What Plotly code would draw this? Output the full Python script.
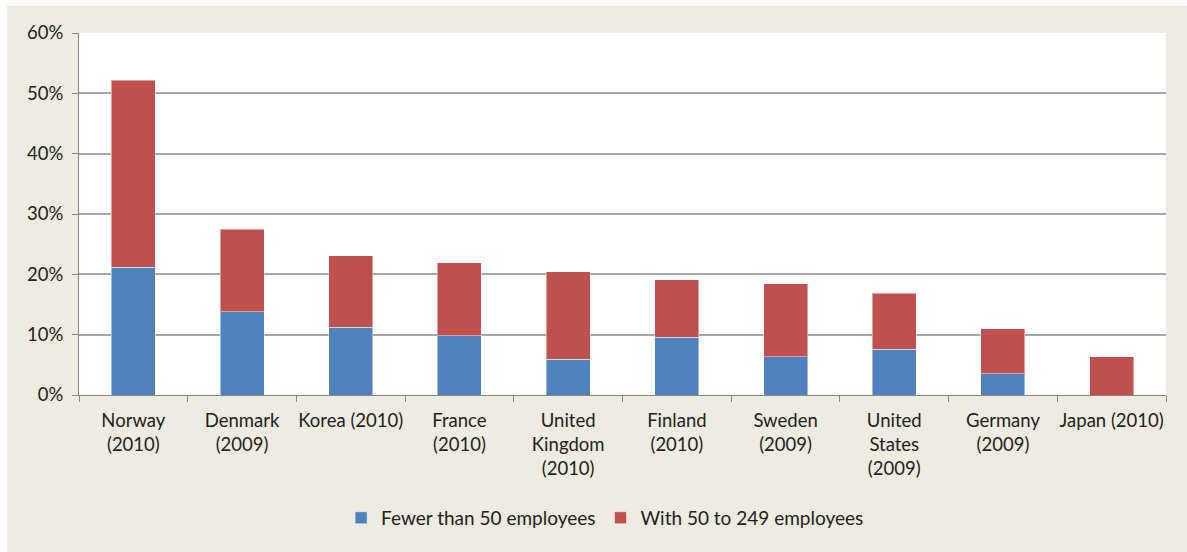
import plotly.graph_objects as go

categories = ["Norway<br>(2010)", "Denmark<br>(2009)", "Korea (2010)", "France<br>(2010)",
              "United<br>Kingdom<br>(2010)", "Finland<br>(2010)", "Sweden<br>(2009)",
              "United<br>States<br>(2009)", "Germany<br>(2009)", "Japan (2010)"]
total = [52.2, 27.5, 23.1, 21.9, 20.4, 19.1, 18.4, 16.9, 11.0, 6.3]
fewer_than_50 = [21.2, 13.8, 11.2, 9.8, 5.9, 9.6, 6.3, 7.6, 3.5, 0.0]
with_50_249 = [round(t - f, 1) for t, f in zip(total, fewer_than_50)]
y_ticks = [0, 10, 20, 30, 40, 50, 60]
y_tick_labels = ["0%", "10%", "20%", "30%", "40%", "50%", "60%"]

FONT = "Lato, 'Open Sans', sans-serif"
BEIGE = "#EEECE1"
TXT = "#222222"

fig = go.Figure()
fig.add_trace(go.Bar(x=categories, y=fewer_than_50, name="Fewer than 50 employees",
                     marker=dict(color="#4F81BD", line=dict(color="rgba(255,255,255,0.45)", width=1))))
fig.add_trace(go.Bar(x=categories, y=with_50_249, name="With 50 to 249 employees",
                     marker=dict(color="#C0504D", line=dict(color="rgba(255,255,255,0.45)", width=1))))

fig.update_layout(
    barmode="stack",
    bargap=0.595,
    width=1195, height=560,
    margin=dict(l=72, r=36, t=27, b=171, autoexpand=False),
    paper_bgcolor=BEIGE,
    plot_bgcolor="white",
    font=dict(family=FONT, size=18.5, color=TXT),
    showlegend=True,
    legend=dict(orientation="h", x=0.484, xanchor="center", y=-0.287, yanchor="top",
                font=dict(family=FONT, size=19, color=TXT),
                bgcolor="rgba(0,0,0,0)", itemwidth=30, traceorder="normal"),
)
fig.update_xaxes(
    showline=True, linecolor="#868686", linewidth=1,
    ticks="outside", tickson="boundaries", ticklen=6, tickcolor="#868686",
    tickangle=0, automargin=False, ticklabelstandoff=9,
    tickfont=dict(family=FONT, size=18.5, color=TXT),
    showgrid=False,
)
fig.update_yaxes(
    range=[0, 60], tickvals=y_ticks, ticktext=y_tick_labels,
    showline=True, linecolor="#868686", linewidth=1,
    ticks="outside", ticklen=6, tickcolor="#868686",
    showgrid=True, gridcolor="#A6A6A6", gridwidth=1.5,
    zeroline=False, automargin=False, ticklabelstandoff=5,
    tickfont=dict(family=FONT, size=18.5, color=TXT),
)

fig.write_html(
    "out.html",
    post_script="document.body.style.margin='6px 0 0 7px';document.body.style.overflow='hidden';",
)
